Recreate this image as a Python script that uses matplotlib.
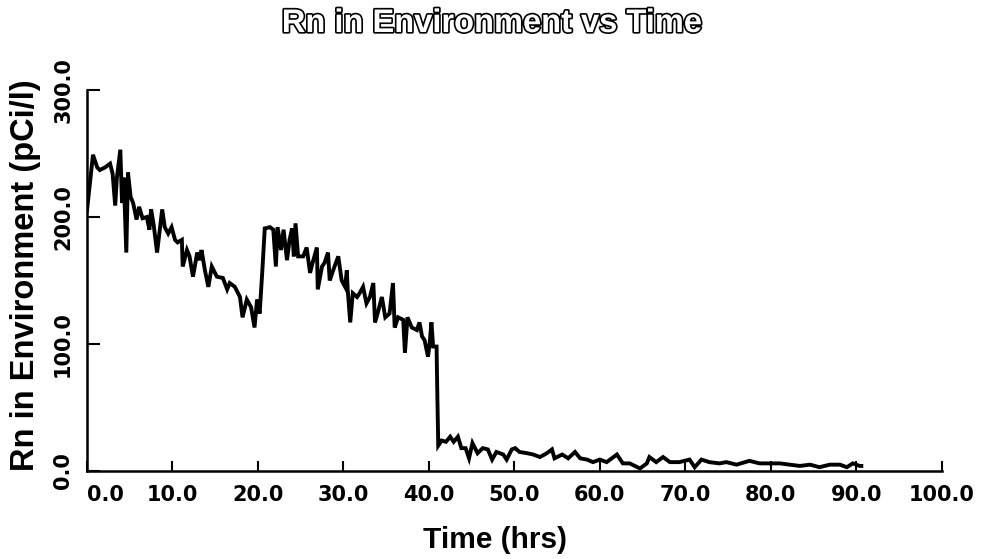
import matplotlib
matplotlib.use("Agg")
import matplotlib.pyplot as plt
import matplotlib.patheffects as pe

# values
time_hrs = [
    0.0, 0.7, 1.2, 1.5, 2.1, 2.7, 3.0, 3.3, 3.5, 3.9, 4.1, 4.3, 4.6, 4.8,
    5.1, 5.4, 5.8, 6.1, 6.5, 7.0, 7.3, 7.5, 7.8, 8.2, 8.8, 9.1, 9.5, 9.9,
    10.3, 10.6, 11.1, 11.2, 11.7, 12.0, 12.4, 12.9, 13.2, 13.4, 13.8, 14.2,
    14.6, 15.2, 15.9, 16.4, 16.7, 17.3, 17.9, 18.2, 18.7, 19.2, 19.6, 19.9,
    20.2, 20.5, 20.8, 21.4, 21.8, 22.1, 22.3, 22.7, 23.0, 23.4, 23.7, 24.0,
    24.2, 24.4, 24.7, 25.3, 25.7, 26.1, 26.4, 26.9, 27.0, 27.5, 27.8, 28.2,
    28.4, 28.8, 29.4, 29.8, 30.2, 30.4, 30.5, 30.8, 31.1, 31.6, 31.9, 32.3,
    32.7, 33.1, 33.5, 33.7, 34.0, 34.5, 34.9, 35.4, 35.8, 36.0, 36.4, 37.0,
    37.2, 37.5, 38.0, 38.6, 38.9, 39.2, 39.5, 39.9, 40.1, 40.3, 40.5, 40.9,
    41.0, 41.1, 41.5, 42.0, 42.5, 42.9, 43.4, 43.8, 44.3, 44.7, 45.1, 45.7,
    46.3, 46.9, 47.4, 47.9, 48.7, 49.1, 49.7, 50.1, 50.6, 51.5, 52.2, 53.0,
    53.8, 54.4, 54.7, 55.6, 56.3, 57.1, 57.7, 58.5, 59.2, 60.0, 60.8, 62.0,
    62.7, 63.5, 64.7, 65.5, 65.8, 66.6, 67.4, 68.2, 69.3, 70.5, 71.1, 71.9,
    72.8, 74.0, 74.8, 76.0, 77.5, 78.7, 79.9, 81.1, 82.2, 83.4, 84.6, 85.7,
    86.9, 88.1, 88.9, 89.6, 90.4, 90.6,
]
rn_pci_l = [
    205, 249, 239, 237, 239, 242, 234, 209, 231, 253, 211, 231, 172, 235,
    216, 211, 198, 208, 199, 200, 190, 206, 194, 172, 206, 192, 187, 192,
    182, 180, 182, 161, 174, 169, 153, 172, 166, 174, 158, 145,
    161, 153, 152, 143, 148, 145, 137, 121, 135, 129, 113, 135,
    124, 156, 191, 192, 190, 161, 192, 174, 190, 166, 182, 191,
    169, 195, 169, 169, 176, 156, 164, 176, 143, 161, 164, 172,
    150, 158, 169, 150, 145, 158, 143, 117, 140, 137, 140, 145,
    132, 137, 148, 117, 124, 137, 121, 124, 148, 113, 121, 119,
    93, 121, 113, 111, 117, 106, 103, 90, 101, 117, 98, 98,
    56, 20, 24, 23, 27, 23, 27, 18, 18, 10, 22, 14,
    18, 17, 9, 15, 13, 9, 17, 18, 15, 14, 13, 11,
    14, 17, 10, 13, 10, 15, 10, 9, 7, 9, 7, 13,
    6, 6, 2, 6, 11, 7, 11, 7, 7, 9, 3, 9,
    7, 6, 7, 5, 8, 6, 6, 6, 5, 4, 5, 3,
    5, 5, 3, 6, 4, 4,
]
x_ticks = [0, 10, 20, 30, 40, 50, 60, 70, 80, 90, 100]
y_ticks = [0, 100, 200, 300]

plt.rcParams['font.family'] = ['Liberation Sans', 'DejaVu Sans']
plt.rcParams['font.weight'] = 'bold'

fig = plt.figure(figsize=(9.84, 5.59), dpi=100)
ax = fig.add_axes([0.0884, 0.1574, 0.957 - 0.0884, 0.839 - 0.1574])

ax.plot(time_hrs, rn_pci_l, color='black', lw=2.8, solid_joinstyle='miter')

ax.set_xlim(0, 100)
ax.set_ylim(0, 300)
ax.set_xticks(x_ticks)
ax.set_xticklabels([f"{t:.1f}" for t in x_ticks], fontsize=15, fontweight='bold',
                   family='DejaVu Sans')
ax.set_yticks(y_ticks)
ax.set_yticklabels([f"{v:.1f}" for v in y_ticks], fontsize=15, fontweight='bold',
                   family='DejaVu Sans', rotation=90, va='center')

# the "0.0" label sits right of its tick in the original
ax.get_xticklabels()[0].set_horizontalalignment('left')

ax.spines['top'].set_visible(False)
ax.spines['right'].set_visible(False)
ax.spines['left'].set_linewidth(1.8)
ax.spines['bottom'].set_linewidth(1.8)
ax.tick_params(axis='x', direction='in', length=7, width=1.5, pad=10)
ax.tick_params(axis='y', direction='in', length=9, width=1.5, pad=10)

ax.set_xlabel("Time (hrs)", fontsize=21.5, fontweight='bold', va='center')
ax.xaxis.set_label_coords(0.4775, -0.181)
ax.set_ylabel("Rn in Environment (pCi/l)", fontsize=23.5, fontweight='bold',
              va='center', ha='center')
ax.yaxis.set_label_coords(-0.0725, 0.515)

fig.text(0.5, 0.958, "Rn in Environment vs Time", ha='center', va='center',
         fontsize=23.5, fontweight='bold', color='white',
         path_effects=[pe.withStroke(linewidth=2.4, foreground='black')])

fig.savefig("out.png", dpi=100)
